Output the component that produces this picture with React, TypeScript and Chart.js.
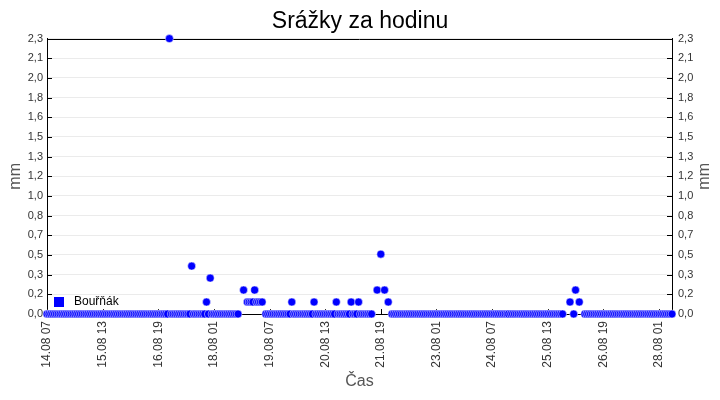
import React, { useEffect, useRef } from 'react';
import { Chart, registerables } from 'chart.js';

Chart.register(...registerables);

// hourly readings, offset 0 = 14.08 07:00
const hourCount = 338;
const xTickLabels = ['14.08 07', '15.08 13', '16.08 19', '18.08 01', '19.08 07', '20.08 13', '21.08 19', '23.08 01', '24.08 07', '25.08 13', '26.08 19', '28.08 01'];
const xTickStep = 30;
const yTickLabels = ['0,0', '0,2', '0,3', '0,5', '0,7', '0,8', '1,0', '1,2', '1,3', '1,5', '1,6', '1,8', '2,0', '2,1', '2,3'];
const yMax = 2.3;

// hours with rain and the amount (mm)
const rainHours = [66, 78, 86, 88, 106, 108, 109, 110, 111, 112, 113, 114, 115, 116, 132, 144, 156, 164, 168, 178, 180, 182, 184, 282, 285, 287];
const rainValues = [2.3, 0.4, 0.1, 0.3, 0.2, 0.1, 0.1, 0.1, 0.1, 0.2, 0.1, 0.1, 0.1, 0.1, 0.1, 0.1, 0.1, 0.1, 0.1, 0.2, 0.5, 0.2, 0.1, 0.1, 0.2, 0.1];
// hours without a record
const missingHours = [104, 105, 107, 117, 176, 177, 179, 181, 183, 185, 279, 280, 281, 283, 286, 288, 289];

const seriesName = 'Bouřňák';
const yTitle = 'mm';
const blue = '#0000ff';
const fontFamily = '"Liberation Sans", Arial, sans-serif';

const frame = {
  id: 'frame',
  beforeDatasetsDraw(chart: any) {
    const { ctx, chartArea: a, scales } = chart;
    ctx.save();
    ctx.strokeStyle = '#000';
    ctx.lineWidth = 1;
    ctx.beginPath();
    ctx.moveTo(a.left, Math.round(a.top) + 0.5);
    ctx.lineTo(a.right, Math.round(a.top) + 0.5);
    scales.x.ticks.forEach((t: any) => {
      const x = Math.round(scales.x.getPixelForValue(t.value)) + 0.5;
      ctx.moveTo(x, a.bottom);
      ctx.lineTo(x, a.bottom - 5);
    });
    scales.y.ticks.forEach((t: any) => {
      const y = Math.round(scales.y.getPixelForValue(t.value)) + 0.5;
      ctx.moveTo(a.left, y);
      ctx.lineTo(a.left + 5, y);
      ctx.moveTo(a.right, y);
      ctx.lineTo(a.right - 5, y);
    });
    ctx.stroke();

    // right axis title, read bottom to top like the left one
    ctx.translate(a.right + 33, (a.top + a.bottom) / 2);
    ctx.rotate(-Math.PI / 2);
    ctx.fillStyle = '#555';
    ctx.font = `16px ${fontFamily}`;
    ctx.textAlign = 'center';
    ctx.textBaseline = 'middle';
    ctx.fillText(yTitle, 0, 0);
    ctx.restore();
  },
};

const innerLegend = {
  id: 'innerLegend',
  afterDatasetsDraw(chart: any) {
    const { ctx, chartArea: a } = chart;
    ctx.save();
    ctx.fillStyle = blue;
    ctx.fillRect(a.left + 7, a.bottom - 17, 10, 10);
    ctx.fillStyle = '#000';
    ctx.font = `12px ${fontFamily}`;
    ctx.textBaseline = 'middle';
    ctx.fillText(seriesName, a.left + 27, a.bottom - 12);
    ctx.restore();
  },
};

export default function App() {
  const canvasRef = useRef<HTMLCanvasElement | null>(null);

  useEffect(() => {
    if (!canvasRef.current) return;

    const points: { x: number; y: number }[] = [];
    for (let h = 0; h < hourCount; h++) {
      if (missingHours.includes(h)) continue;
      const i = rainHours.indexOf(h);
      points.push({ x: h, y: i >= 0 ? rainValues[i] : 0 });
    }

    const yTicks = (scale: any) => {
      scale.ticks = yTickLabels.map((_, i) => ({ value: (i * yMax) / (yTickLabels.length - 1) }));
    };
    const tickFont = { size: 11 };

    Chart.defaults.font.family = fontFamily;

    const chart = new Chart(canvasRef.current, {
      type: 'scatter',
      data: {
        datasets: [
          {
            label: seriesName,
            data: points,
            backgroundColor: blue,
            borderColor: 'rgba(255,255,255,0.7)',
            borderWidth: 0.7,
            pointRadius: 4,
            clip: false,
          },
        ],
      },
      plugins: [frame, innerLegend],
      options: {
        animation: false,
        responsive: true,
        maintainAspectRatio: false,
        layout: { padding: 0 },
        plugins: {
          legend: { display: false },
          tooltip: { enabled: false },
          title: {
            display: true,
            text: 'Srážky za hodinu',
            color: '#000',
            font: { size: 23, weight: 'normal' },
            padding: { top: 8, bottom: 3 },
          },
        },
        scales: {
          x: {
            type: 'linear',
            min: 0,
            max: hourCount - 1,
            afterBuildTicks: (scale: any) => {
              scale.ticks = xTickLabels.map((_, i) => ({ value: i * xTickStep }));
            },
            afterFit: (scale: any) => {
              scale.height = 86;
            },
            ticks: {
              autoSkip: false,
              minRotation: 90,
              maxRotation: 90,
              padding: 7,
              color: '#333',
              font: { size: 12 },
              callback: (_v: any, i: number) => xTickLabels[i],
            },
            grid: { display: false, drawTicks: false },
            border: { display: true, color: '#000' },
            title: { display: true, text: 'Čas', color: '#555', font: { size: 16 }, padding: { top: 0, bottom: 9 } },
          },
          y: {
            position: 'left',
            min: 0,
            max: yMax,
            afterBuildTicks: yTicks,
            afterFit: (scale: any) => {
              scale.width = 47;
            },
            ticks: {
              padding: 4,
              color: '#333',
              font: tickFont,
              callback: (_v: any, i: number) => yTickLabels[i],
            },
            grid: { color: '#ebebeb', drawTicks: false },
            border: { display: true, color: '#000' },
            title: { display: true, text: yTitle, color: '#555', font: { size: 16 }, padding: { top: 6, bottom: 0 } },
          },
          y2: {
            position: 'right',
            min: 0,
            max: yMax,
            afterBuildTicks: yTicks,
            afterFit: (scale: any) => {
              scale.width = 48;
            },
            ticks: {
              padding: 6,
              color: '#333',
              font: tickFont,
              callback: (_v: any, i: number) => yTickLabels[i],
            },
            grid: { drawOnChartArea: false, drawTicks: false },
            border: { display: true, color: '#000' },
          },
        },
      },
    } as any);

    return () => {
      chart.destroy();
    };
  }, []);

  return (
    <div style={{ position: 'absolute', left: 0, top: 0, width: '720px', height: '400px', background: '#fff' }}>
      <canvas ref={canvasRef} />
    </div>
  );
}
